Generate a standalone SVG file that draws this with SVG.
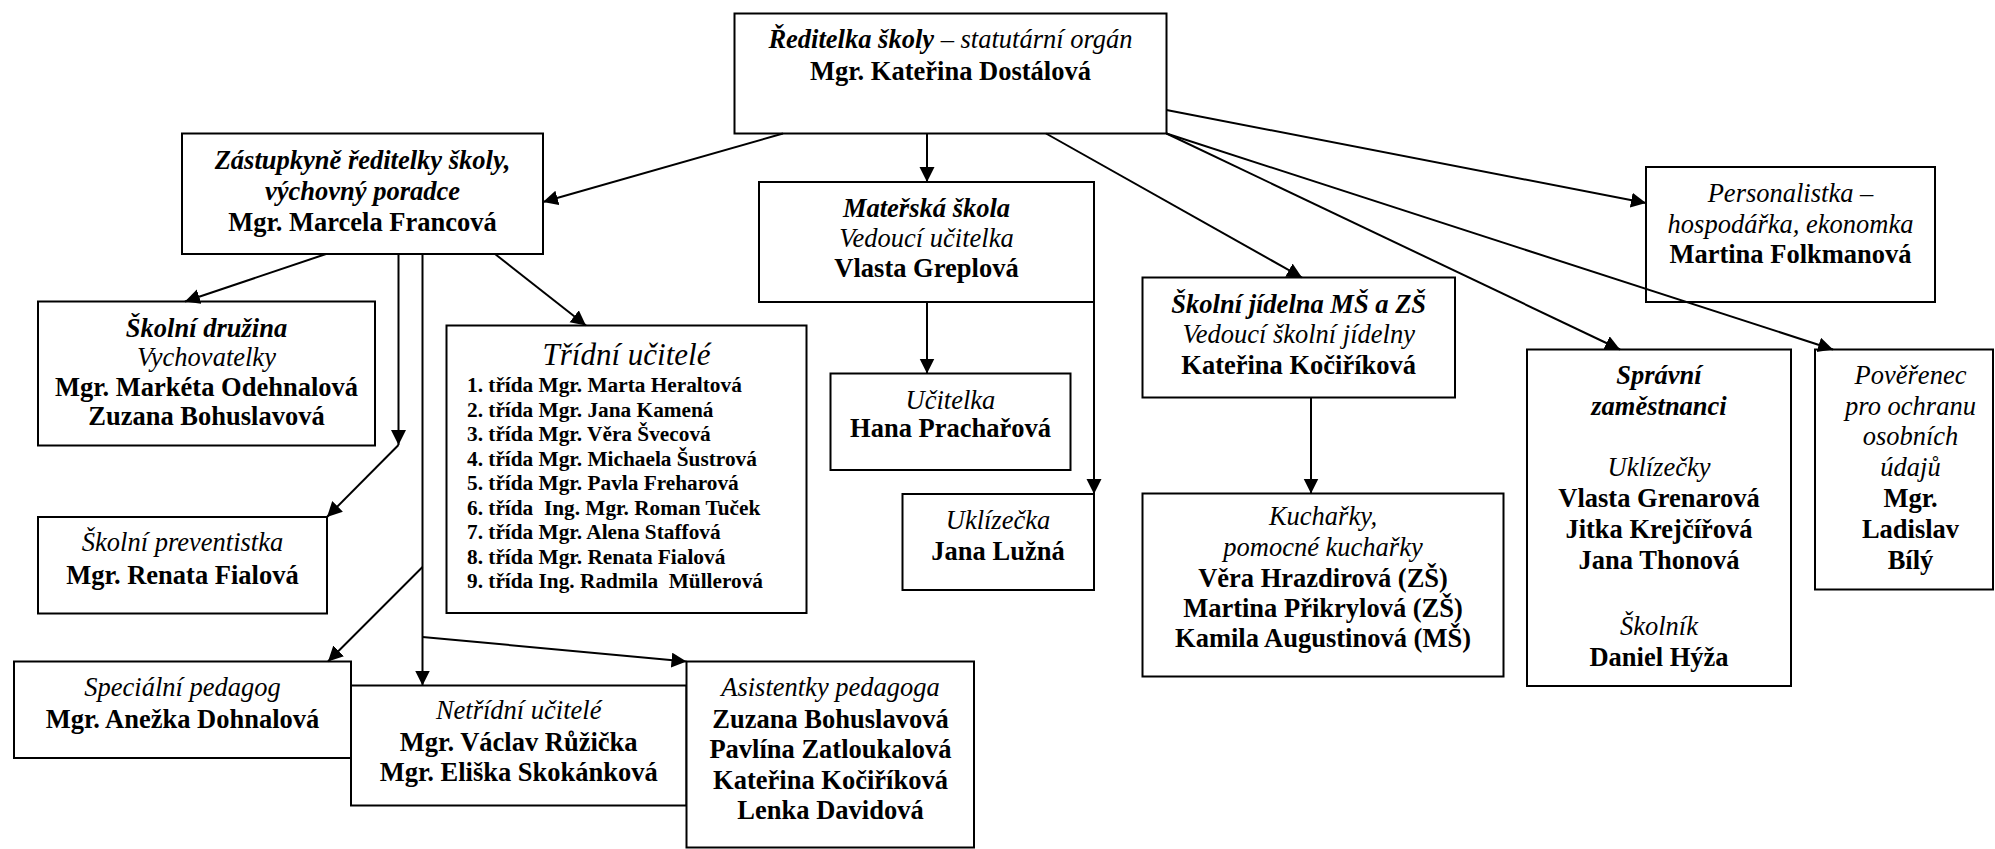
<svg xmlns="http://www.w3.org/2000/svg" width="1995" height="849" viewBox="0 0 1995 849" font-family="'Liberation Serif', Tinos, 'Times New Roman', 'DejaVu Serif', serif">
<defs>
<style>
text{font-family:'Liberation Serif',Tinos,'Times New Roman','DejaVu Serif',serif;font-size:26.5px;fill:#000;text-anchor:middle}
.b{font-weight:bold}
.i{font-style:italic}
.bi{font-weight:bold;font-style:italic}
.box{fill:#fff;stroke:#000;stroke-width:2}
.ln{fill:none;stroke:#000;stroke-width:2;marker-end:url(#ah)}
.list{font-size:21.3px;font-weight:bold;text-anchor:start}
</style>
<marker id="ah" markerUnits="userSpaceOnUse" markerWidth="16" markerHeight="16" viewBox="0 0 16 16" refX="15" refY="7.5" orient="auto">
<path d="M0,0 L15,7.5 L0,15 z" fill="#000"/>
</marker>
</defs>
<rect width="1995" height="849" fill="#fff"/>

<g id="reditelka">
<rect class="box" x="734.5" y="13.5" width="432" height="120"/>
<text x="950.5" y="48"><tspan class="bi">Ředitelka školy</tspan><tspan class="i"> – statutární orgán</tspan></text>
<text class="b" x="950.5" y="80">Mgr. Kateřina Dostálová</text>
</g>

<g id="zastupkyne">
<rect class="box" x="182" y="133.5" width="361" height="120.5"/>
<text class="bi" x="362.5" y="168.5">Zástupkyně ředitelky školy,</text>
<text class="bi" x="362.5" y="200">výchovný poradce</text>
<text class="b" x="362.5" y="230.5">Mgr. Marcela Francová</text>
</g>

<g id="materska-skola">
<rect class="box" x="759" y="182" width="335" height="120"/>
<text class="bi" x="926.5" y="216.5">Mateřská škola</text>
<text class="i" x="926.5" y="246.5">Vedoucí učitelka</text>
<text class="b" x="926.5" y="276.5">Vlasta Greplová</text>
</g>

<g id="personalistka">
<rect class="box" x="1646" y="167" width="289" height="135"/>
<text class="i" x="1790.5" y="202">Personalistka –</text>
<text class="i" x="1790.5" y="232.5">hospodářka, ekonomka</text>
<text class="b" x="1790.5" y="263">Martina Folkmanová</text>
</g>

<g id="druzina">
<rect class="box" x="38" y="301.5" width="337" height="144"/>
<text class="bi" x="206.5" y="336.5">Školní družina</text>
<text class="i" x="206.5" y="366">Vychovatelky</text>
<text class="b" x="206.5" y="395.5">Mgr. Markéta Odehnalová</text>
<text class="b" x="206.5" y="425">Zuzana Bohuslavová</text>
</g>

<g id="tridni-ucitele">
<rect class="box" x="446.5" y="325.5" width="360" height="287.5"/>
<text class="i" x="626.5" y="365" style="font-size:31px">Třídní učitelé</text>
<text class="list" x="467" y="392.3">1. třída Mgr. Marta Heraltová</text>
<text class="list" x="467" y="416.8">2. třída Mgr. Jana Kamená</text>
<text class="list" x="467" y="441.3">3. třída Mgr. Věra Švecová</text>
<text class="list" x="467" y="465.8">4. třída Mgr. Michaela Šustrová</text>
<text class="list" x="467" y="490.3">5. třída Mgr. Pavla Freharová</text>
<text class="list" x="467" y="514.8" xml:space="preserve">6. třída  Ing. Mgr. Roman Tuček</text>
<text class="list" x="467" y="539.3">7. třída Mgr. Alena Staffová</text>
<text class="list" x="467" y="563.8">8. třída Mgr. Renata Fialová</text>
<text class="list" x="467" y="588.3" xml:space="preserve">9. třída Ing. Radmila  Müllerová</text>
</g>

<g id="ucitelka">
<rect class="box" x="830.5" y="373.5" width="240" height="96.5"/>
<text class="i" x="950.5" y="408.5">Učitelka</text>
<text class="b" x="950.5" y="437">Hana Prachařová</text>
</g>

<g id="uklizecka">
<rect class="box" x="902.5" y="494" width="191.5" height="96"/>
<text class="i" x="998" y="528.5">Uklízečka</text>
<text class="b" x="998" y="559.5">Jana Lužná</text>
</g>

<g id="jidelna">
<rect class="box" x="1142.5" y="277.5" width="312.5" height="120"/>
<text class="bi" x="1298.7" y="312.5">Školní jídelna MŠ a ZŠ</text>
<text class="i" x="1298.7" y="343">Vedoucí školní jídelny</text>
<text class="b" x="1298.7" y="373.5">Kateřina Kočiříková</text>
</g>

<g id="kucharky">
<rect class="box" x="1142.5" y="493.5" width="361" height="183"/>
<text class="i" x="1323" y="525">Kuchařky,</text>
<text class="i" x="1323" y="556">pomocné kuchařky</text>
<text class="b" x="1323" y="586.5">Věra Hrazdirová (ZŠ)</text>
<text class="b" x="1323" y="616.5">Martina Přikrylová (ZŠ)</text>
<text class="b" x="1323" y="646.5">Kamila Augustinová (MŠ)</text>
</g>

<g id="spravni">
<rect class="box" x="1527" y="349.5" width="264" height="336.5"/>
<text class="bi" x="1659" y="383.5">Správní</text>
<text class="bi" x="1659" y="414.5">zaměstnanci</text>
<text class="i" x="1659" y="476">Uklízečky</text>
<text class="b" x="1659" y="507">Vlasta Grenarová</text>
<text class="b" x="1659" y="537.5">Jitka Krejčířová</text>
<text class="b" x="1659" y="568.5">Jana Thonová</text>
<text class="i" x="1659" y="635">Školník</text>
<text class="b" x="1659" y="666">Daniel Hýža</text>
</g>

<g id="poverenec">
<rect class="box" x="1815" y="349.5" width="178" height="240"/>
<text class="i" x="1910.5" y="383.5">Pověřenec</text>
<text class="i" x="1910.5" y="414.5">pro ochranu</text>
<text class="i" x="1910.5" y="445">osobních</text>
<text class="i" x="1910.5" y="476">údajů</text>
<text class="b" x="1910.5" y="507">Mgr.</text>
<text class="b" x="1910.5" y="537.5">Ladislav</text>
<text class="b" x="1910.5" y="568.5">Bílý</text>
</g>

<g id="preventistka">
<rect class="box" x="38" y="517" width="289" height="96.5"/>
<text class="i" x="182.5" y="550.5">Školní preventistka</text>
<text class="b" x="182.5" y="584">Mgr. Renata Fialová</text>
</g>

<g id="specialni-pedagog">
<rect class="box" x="14" y="661.5" width="337" height="96.5"/>
<text class="i" x="182.5" y="695.5">Speciální pedagog</text>
<text class="b" x="182.5" y="727.5">Mgr. Anežka Dohnalová</text>
</g>

<g id="netridni-ucitele">
<rect class="box" x="351" y="685.5" width="335.5" height="120"/>
<text class="i" x="518.7" y="719">Netřídní učitelé</text>
<text class="b" x="518.7" y="750.5">Mgr. Václav Růžička</text>
<text class="b" x="518.7" y="780.5">Mgr. Eliška Skokánková</text>
</g>

<g id="asistentky">
<rect class="box" x="686.5" y="661.5" width="287.5" height="186"/>
<text class="i" x="830.5" y="695.5">Asistentky pedagoga</text>
<text class="b" x="830.5" y="727.5">Zuzana Bohuslavová</text>
<text class="b" x="830.5" y="758">Pavlína Zatloukalová</text>
<text class="b" x="830.5" y="788.5">Kateřina Kočiříková</text>
<text class="b" x="830.5" y="818.5">Lenka Davidová</text>
</g>

<g id="connectors">
<path class="ln" d="M783,133.5 L543,202"/>
<path class="ln" d="M927,133.5 L927,182"/>
<path class="ln" d="M1046,133.5 L1302,277.5"/>
<path class="ln" d="M1166.5,110 L1646,203"/>
<path class="ln" d="M1166.5,133.5 L1620,349.5"/>
<path class="ln" d="M1166.5,133.5 L1833,349.5"/>
<path class="ln" d="M326,254 L185,301.5"/>
<path class="ln" d="M495,254 L586,325.5"/>
<path class="ln" d="M398.5,254 L398.5,445"/>
<path class="ln" d="M398.5,445 L327,517"/>
<path class="ln" d="M422.5,254 L422.5,685.5"/>
<path class="ln" d="M422.5,567 L328,661.5"/>
<path class="ln" d="M422.5,637 L686.5,661.5"/>
<path class="ln" d="M927,302 L927,373.5"/>
<path class="ln" d="M1094,302 L1094,494"/>
<path class="ln" d="M1311,397.5 L1311,493.5"/>
</g>
</svg>
